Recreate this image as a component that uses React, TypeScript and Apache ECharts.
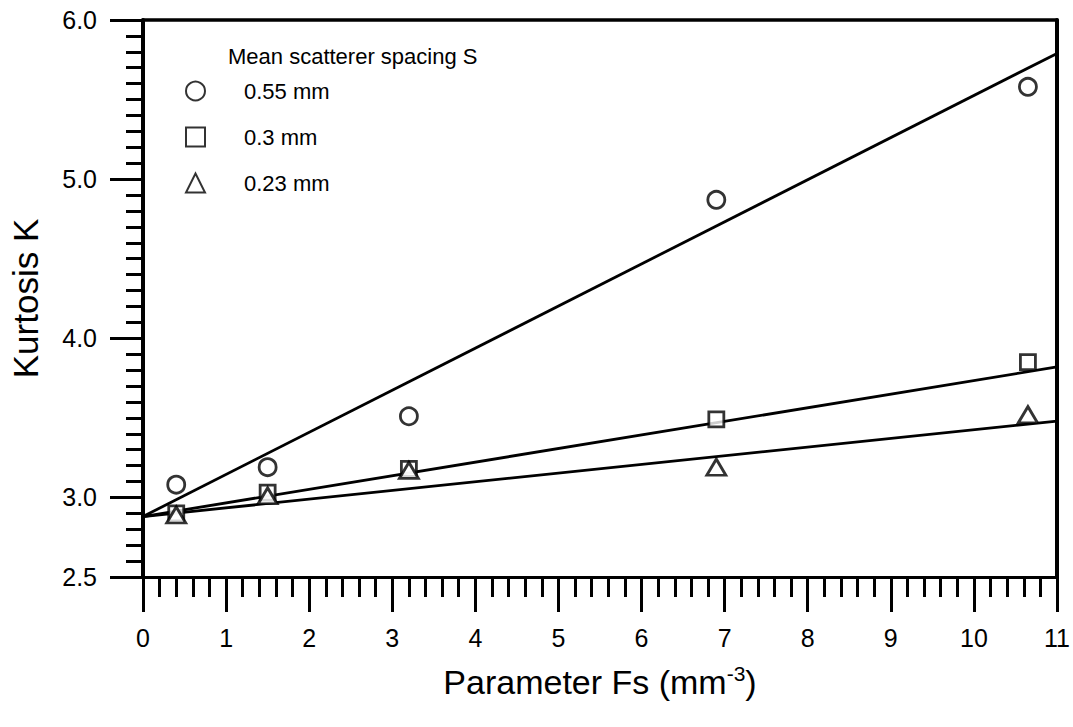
import React, { useEffect, useRef } from "react";
import * as echarts from "echarts";

const FONT = "'Liberation Sans', Arial, Helvetica, sans-serif";

// Fs values (mm^-3) of the measured samples
const fsValues = [0.4, 1.5, 3.2, 6.9, 10.65];
// Kurtosis per mean scatterer spacing
const kurt055 = [3.08, 3.19, 3.51, 4.87, 5.58];
const kurt030 = [2.9, 3.03, 3.18, 3.49, 3.85];
const kurt023 = [2.89, 3.01, 3.17, 3.19, 3.52];
// Regression line end points [Fs, K]
const fit055 = [[0, 2.88], [11, 5.79]];
const fit030 = [[0, 2.88], [11, 3.82]];
const fit023 = [[0, 2.88], [11, 3.48]];

const seriesNames = ["0.55 mm", "0.3 mm", "0.23 mm"];
const yMajorTicks = [2.5, 3, 4, 5, 6];

const pts = (ys: number[]) => fsValues.map((x, i) => [x, ys[i]]);

export default function App() {
  const ref = useRef<HTMLDivElement>(null);
  useEffect(() => {
    if (!ref.current) return;
    const chart = echarts.init(ref.current, null, { renderer: "svg" });
    const black = "#000";
    const markStyle = { color: "#fff", borderColor: black, borderWidth: 2.8 };
    const fitLine = (data: number[][]) => ({
      type: "line",
      data,
      showSymbol: false,
      symbol: "none",
      lineStyle: { color: black, width: 2.8 },
      silent: true,
      z: 2,
    });
    chart.setOption({
      animation: false,
      backgroundColor: "#fff",
      textStyle: { fontFamily: FONT },
      title: {
        text: "Mean scatterer spacing S",
        left: 223,
        top: 40,
        textStyle: { fontSize: 22, fontWeight: "normal", color: black, fontFamily: FONT },
      },
      legend: {
        data: seriesNames,
        orient: "vertical",
        left: 180,
        top: 74,
        itemWidth: 19,
        itemHeight: 19,
        itemGap: 22,
        textStyle: {
          fontSize: 22,
          color: black,
          fontFamily: FONT,
          lineHeight: 24,
          padding: [0, 0, 0, 34],
        },
        selectedMode: false,
      },
      grid: {
        left: 143,
        right: 16,
        top: 20,
        bottom: 150,
        containLabel: false,
        outerBoundsMode: "none",
      },
      xAxis: [
        {
          type: "value",
          min: 0,
          max: 11,
          interval: 1,
          position: "bottom",
          name: "Parameter Fs (mm{sup|-3})",
          nameLocation: "middle",
          nameGap: 86,
          nameTextStyle: {
            fontSize: 34,
            color: black,
            fontFamily: FONT,
            rich: { sup: { fontSize: 21, verticalAlign: "top", padding: [0, 0, 16, 0], color: black, fontFamily: FONT } },
          },
          axisLine: { show: true, onZero: false, lineStyle: { color: black, width: 3 } },
          axisTick: { show: true, length: 35, lineStyle: { color: black, width: 3 } },
          minorTick: { show: true, splitNumber: 5, length: 20, lineStyle: { color: black, width: 3 } },
          axisLabel: { margin: 48, fontSize: 25, color: black, fontFamily: FONT },
          splitLine: { show: false },
          minorSplitLine: { show: false },
        },
        {
          type: "value",
          min: 0,
          max: 11,
          position: "top",
          axisLine: { show: true, onZero: false, lineStyle: { color: black, width: 3.5 } },
          axisTick: { show: false },
          axisLabel: { show: false },
          splitLine: { show: false },
        },
      ],
      yAxis: [
        {
          type: "value",
          min: 2.5,
          max: 6,
          interval: 0.5,
          position: "left",
          name: "Kurtosis K",
          nameLocation: "middle",
          nameGap: 100,
          nameTextStyle: { fontSize: 35, color: black, fontFamily: FONT },
          axisLine: { show: true, onZero: false, lineStyle: { color: black, width: 4 } },
          axisTick: { show: true, customValues: yMajorTicks, length: 33, lineStyle: { color: black, width: 3 } },
          axisLabel: {
            formatter: (v: number) =>
              yMajorTicks.some((t) => Math.abs(t - v) < 1e-6) ? v.toFixed(1) : "",
            margin: 46,
            fontSize: 25,
            color: black,
            fontFamily: FONT,
          },
          splitLine: { show: false },
        },
        {
          type: "value",
          min: 2.5,
          max: 6,
          interval: 0.1,
          position: "left",
          axisLine: { show: false },
          axisTick: { show: true, length: 17, lineStyle: { color: black, width: 3 } },
          axisLabel: { show: false },
          splitLine: { show: false },
        },
        {
          type: "value",
          min: 2.5,
          max: 6,
          position: "right",
          axisLine: { show: true, onZero: false, lineStyle: { color: black, width: 4 } },
          axisTick: { show: false },
          axisLabel: { show: false },
          splitLine: { show: false },
        },
      ],
      series: [
        fitLine(fit055),
        fitLine(fit030),
        fitLine(fit023),
        {
          name: seriesNames[0],
          type: "scatter",
          data: pts(kurt055),
          symbol: "circle",
          symbolSize: 17,
          itemStyle: markStyle,
          z: 5,
        },
        {
          name: seriesNames[1],
          type: "scatter",
          data: pts(kurt030),
          symbol: "rect",
          symbolSize: 15,
          itemStyle: markStyle,
          z: 5,
        },
        {
          name: seriesNames[2],
          type: "scatter",
          data: pts(kurt023),
          symbol: "triangle",
          symbolSize: [19, 16],
          itemStyle: markStyle,
          z: 6,
        },
      ],
    });
    return () => chart.dispose();
  }, []);
  return (
    <div
      ref={ref}
      style={{ position: "absolute", left: 0, top: 0, width: 1073, height: 727 }}
    />
  );
}
